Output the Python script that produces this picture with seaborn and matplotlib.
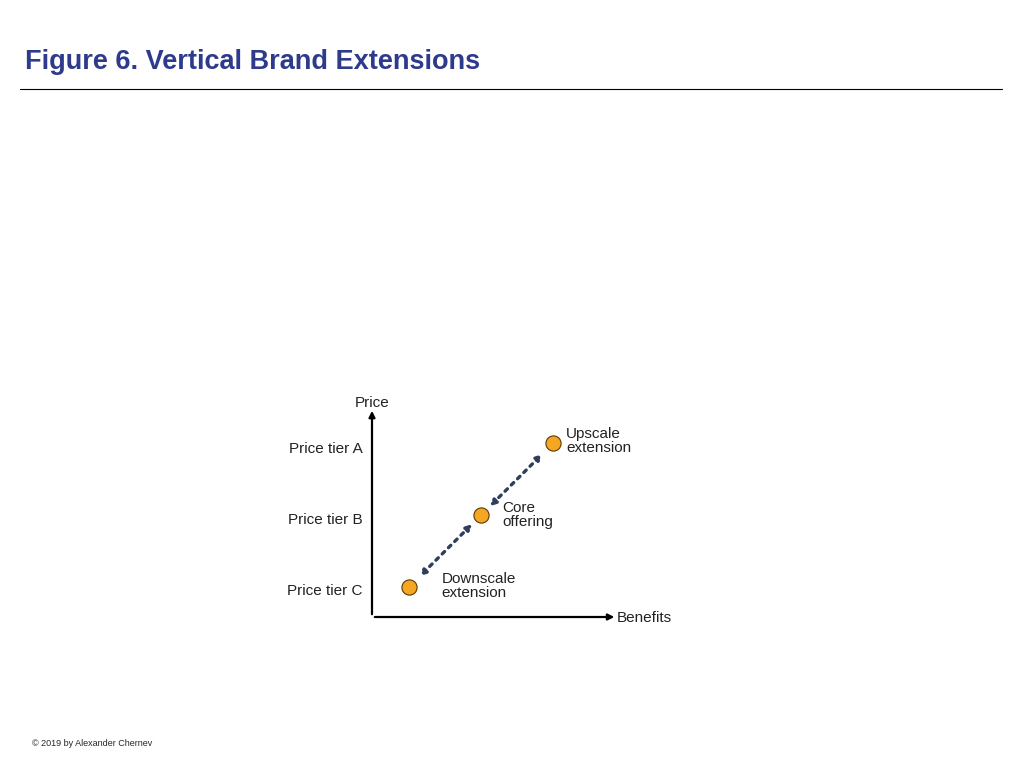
import matplotlib
matplotlib.use("Agg")
import matplotlib.pyplot as plt
import seaborn as sns
from matplotlib.lines import Line2D

sns.set_style("white")
plt.rcParams["font.family"] = "Liberation Sans"

# data
benefits = [1, 2, 3]
price = [1, 2, 3]
point_labels = ["Downscale\nextension", "Core\noffering", "Upscale\nextension"]
tier_labels = ["Price tier C", "Price tier B", "Price tier A"]
tier_pos = [0.96, 1.96, 2.94]

W, H = 1024, 768
fig = plt.figure(figsize=(W / 100, H / 100), dpi=100)

# title and rule
fig.text(25 / W, 1 - 62 / H, "Figure 6. Vertical Brand Extensions", fontsize=19.5,
         fontweight="bold", color="#2E3B8C", va="center", ha="left")
fig.add_artist(Line2D([20 / W, 1002 / W], [1 - 89 / H] * 2, color="black", lw=0.8))
fig.text(32 / W, 1 - 743 / H, "© 2019 by Alexander Chernev", fontsize=6.5, va="center")

ax = fig.add_axes([372 / W, 1 - 617 / H, (610 - 372) / W, (617 - 408) / H])
ax.set_xlim(0.486, 3.79)
ax.set_ylim(0.583, 3.49)
for s in ["top", "right", "left", "bottom"]:
    ax.spines[s].set_visible(False)
ax.set_xticks([])
ax.set_yticks(tier_pos)
ax.set_yticklabels(tier_labels, fontsize=11, color="#222222")
ax.tick_params(axis="y", length=0, pad=7)

# axes with arrowheads
ax.annotate("", xy=(0, 1.0), xytext=(0, 0), xycoords="axes fraction",
            arrowprops=dict(arrowstyle="-|>", color="black", lw=1.6, mutation_scale=9))
ax.annotate("", xy=(1.03, 0), xytext=(0, 0), xycoords="axes fraction",
            arrowprops=dict(arrowstyle="-|>", color="black", lw=1.6, mutation_scale=9))
ax.text(0, 0.99, "Price", transform=ax.transAxes, ha="center", va="bottom", fontsize=11,
        color="#222222")
ax.text(1.03, -0.005, "Benefits", transform=ax.transAxes, ha="left", va="center", fontsize=11,
        color="#222222")

# dotted double arrows between points
for i in [0, 2]:
    ax.annotate("", xy=(benefits[i], price[i]), xytext=(benefits[1], price[1]),
                arrowprops=dict(arrowstyle="<|-|>", color="#2F3E5C", lw=2.4,
                                linestyle=":", shrinkA=9, shrinkB=11,
                                mutation_scale=8))

sns.scatterplot(x=benefits, y=price, ax=ax, s=120, color="#F5A623",
                edgecolor="#5A3A00", linewidth=0.8, zorder=5, clip_on=False)

offsets = [(0.45, 0.02), (0.3, 0.0), (0.18, 0.03)]
for x, y, lab, (dx, dy) in zip(benefits, price, point_labels, offsets):
    ax.text(x + dx, y + dy, lab, fontsize=11, va="center", ha="left", linespacing=1.0,
            color="#222222")

fig.savefig("out.png", dpi=100)
